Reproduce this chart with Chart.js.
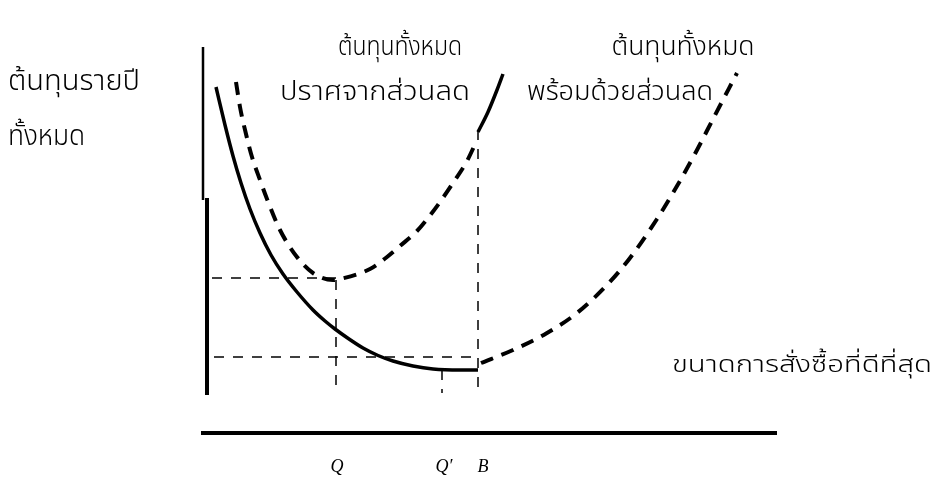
<!DOCTYPE html>
<html lang="th">
<head>
<meta charset="utf-8">
<title>ขนาดการสั่งซื้อที่ดีที่สุด</title>
<script src="https://cdn.jsdelivr.net/npm/chart.js@4.4.1/dist/chart.umd.min.js"></script>
<style>
  html, body { margin: 0; padding: 0; background: #fff; }
  #wrap { width: 934px; height: 484px; position: relative; }
</style>
</head>
<body>
<div id="wrap"><canvas id="eoq-chart"></canvas></div>
<script>
// --- Data (quantity on x, annual cost on y) ---
const noDiscountX = [1.1, 2.0, 2.8, 3.6, 4.5, 5.5, 6.6, 7.8, 9.2, 10.8, 12.0, 13.0, 14.4, 15.8, 17.3, 18.8, 20.8, 22.8, 25.5, 27.3];
const noDiscountY = [34.5, 30.7, 27.6, 24.9, 22.3, 19.9, 17.7, 15.8, 14.0, 12.2, 11.1, 10.3, 9.3, 8.4, 7.65, 7.1, 6.6, 6.3, 6.2, 6.2];
const noDiscountUpperX = [27.3, 28.3, 29.2, 29.8];
const noDiscountUpperY = [30.0, 32.0, 34.2, 35.8];

const discountLeftX = [3.1, 3.5, 4.1, 4.7, 5.5, 6.2, 7.5, 9.2, 10.8, 12.8, 13.5, 16.5, 18.2, 19.5, 21.2, 22.3, 23.5, 24.8, 26.2, 27.2];
const discountLeftY = [35.0, 32.5, 29.8, 27.5, 25.2, 23.3, 20.2, 17.5, 15.9, 15.2, 15.3, 16.3, 17.5, 18.6, 20.1, 21.4, 23.0, 24.9, 27.1, 29.2];
const discountRightX = [27.6, 30.8, 34.2, 37.2, 40.2, 42.5, 45.2, 47.2, 49.2, 50.8, 53.2];
const discountRightY = [6.9, 8.2, 9.9, 11.9, 14.7, 17.4, 21.3, 24.6, 28.2, 31.3, 35.9];

// key quantities and costs
const qEoq = 13.1;      // Q
const qMinCost = 23.7;  // Q'
const qBreak = 27.3;    // B
const costAtQ = 15.4;
const costAtB = 7.5;
const tickLabels = ['Q', 'Q\u2032', 'B'];
const tickValues = [13.2, 23.9, 27.8];

// axis extents
const xAxisEnd = 57.2;
const yAxisTop = 38.5;
const yAxisBottom = 3.7;

const pts = (xs, ys) => xs.map((x, i) => ({ x, y: ys[i] }));

const ctx = document.getElementById('eoq-chart').getContext('2d');

const thaiFont = '"Noto Sans Thai", "Noto Serif Thai", "Loma", "Garuda", "Norasi", "Tlwg Typo", "DejaVu Sans", sans-serif';

// texts: [text, x, baseline y, align, width, font px]  (data units)
const texts = [
  ['ต้นทุนรายปี', -19.7, 34.2, 'left', 13.2, 23],
  ['ทั้งหมด', -19.7, 28.7, 'left', 7.7, 23],
  ['ต้นทุนทั้งหมด', 19.5, 37.7, 'center', 12.4, 22],
  ['ปราศจากส่วนลด', 7.5, 33.2, 'left', 19.0, 22],
  ['ต้นทุนทั้งหมด', 47.8, 37.7, 'center', 14.3, 22],
  ['พร้อมด้วยส่วนลด', 32.2, 33.2, 'left', 18.6, 22],
  ['ขนาดการสั่งซื้อที่ดีที่สุด', 46.7, 6.0, 'left', 26.0, 19],
];

const labelPlugin = {
  id: 'labels',
  afterDraw(chart) {
    const { ctx, scales: { x, y } } = chart;
    ctx.save();
    ctx.fillStyle = '#000';
    ctx.textBaseline = 'alphabetic';
    texts.forEach(([t, tx, ty, align, w, size]) => {
      ctx.font = '300 ' + size + 'px ' + thaiFont;
      const wPx = x.getPixelForValue(tx + w) - x.getPixelForValue(tx);
      const sx = wPx / ctx.measureText(t).width;
      ctx.save();
      ctx.translate(x.getPixelForValue(tx), y.getPixelForValue(ty));
      ctx.scale(sx, 1.25);
      ctx.textAlign = align;
      ctx.fillText(t, 0, 0);
      ctx.restore();
    });
    ctx.font = 'italic 18px "Liberation Serif", "DejaVu Serif", serif';
    ctx.textAlign = 'center';
    tickLabels.forEach((t, i) => {
      ctx.fillText(t, x.getPixelForValue(tickValues[i]), y.getPixelForValue(-4.0));
    });
    ctx.restore();
  }
};

const curve = (data, dashed) => ({
  data, showLine: true, borderColor: '#000', borderWidth: dashed ? 4 : 3.5,
  borderDash: dashed ? [13, 9] : [], pointRadius: 0, cubicInterpolationMode: 'monotone', fill: false,
});
const guide = (data) => ({
  data, showLine: true, borderColor: '#000', borderWidth: 1.5,
  borderDash: [10, 9], pointRadius: 0, tension: 0, fill: false,
});
const axis = (data, w) => ({
  data, showLine: true, borderColor: '#000', borderWidth: w, pointRadius: 0, tension: 0, fill: false,
});

new Chart(ctx, {
  type: 'scatter',
  data: {
    datasets: [
      axis([{ x: -0.2, y: yAxisTop }, { x: -0.2, y: 23.2 }], 2.5),
      axis([{ x: 0.2, y: 23.4 }, { x: 0.2, y: yAxisBottom }], 4),
      axis([{ x: -0.4, y: -0.1 }, { x: xAxisEnd, y: -0.1 }], 4),
      guide([{ x: 0.7, y: costAtQ }, { x: qEoq, y: costAtQ }]),
      guide([{ x: 0.9, y: costAtB }, { x: qBreak, y: costAtB }]),
      guide([{ x: qEoq, y: 15.2 }, { x: qEoq, y: yAxisBottom + 0.2 }]),
      guide([{ x: qMinCost, y: 6.2 }, { x: qMinCost, y: yAxisBottom + 0.2 }]),
      guide([{ x: qBreak, y: 30.2 }, { x: qBreak, y: yAxisBottom + 0.2 }]),
      curve(pts(noDiscountX, noDiscountY), false),
      curve(pts(noDiscountUpperX, noDiscountUpperY), false),
      curve(pts(discountLeftX, discountLeftY), true),
      curve(pts(discountRightX, discountRightY), true),
    ]
  },
  options: {
    responsive: true,
    maintainAspectRatio: false,
    animation: false,
    layout: { padding: 0 },
    plugins: { legend: { display: false }, tooltip: { enabled: false } },
    scales: {
      x: { type: 'linear', display: false, min: -20.5, max: 72.9 },
      y: { type: 'linear', display: false, min: -5.2, max: 43.2 }
    }
  },
  plugins: [labelPlugin]
});
</script>
</body>
</html>
